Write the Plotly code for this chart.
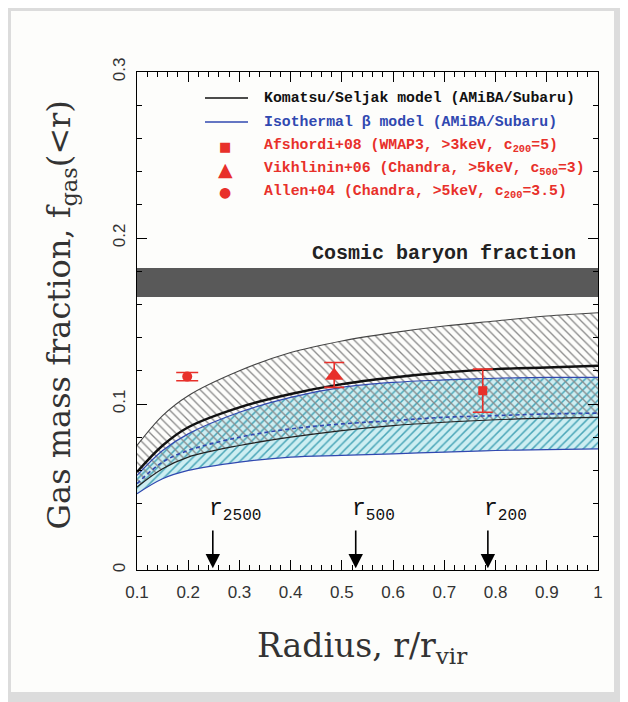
import plotly.graph_objects as go

# ---------------- data ----------------
radius = [0.1, 0.15, 0.2, 0.3, 0.4, 0.5, 0.6, 0.7, 0.8, 0.9, 1.0]
ks_upper = [0.075, 0.093, 0.105, 0.120, 0.131, 0.138, 0.143, 0.147, 0.150, 0.153, 0.155]
ks_center = [0.059, 0.075, 0.086, 0.098, 0.106, 0.112, 0.116, 0.119, 0.121, 0.122, 0.123]
ks_lower = [0.050, 0.061, 0.068, 0.075, 0.080, 0.084, 0.087, 0.089, 0.0905, 0.0915, 0.092]
iso_upper = [0.057, 0.072, 0.082, 0.095, 0.104, 0.110, 0.113, 0.1145, 0.1155, 0.116, 0.116]
iso_center = [0.052, 0.065, 0.072, 0.080, 0.085, 0.088, 0.090, 0.092, 0.093, 0.094, 0.0945]
iso_lower = [0.046, 0.055, 0.060, 0.065, 0.068, 0.069, 0.070, 0.071, 0.072, 0.0725, 0.073]

baryon_low = 0.1645
baryon_high = 0.182
x_range = [0.1, 1.0]

afshordi_x = [0.775]; afshordi_y = [0.108]; afshordi_err = [0.013]
vikhlinin_x = [0.485]; vikhlinin_y = [0.117]; vikhlinin_err_up = [0.008]; vikhlinin_err_dn = [0.007]
allen_x = [0.198]; allen_y = [0.1165]; allen_err = [0.0025]

arrow_x = [0.248, 0.527, 0.785]
arrow_labels = ["r<sub>2500</sub>", "r<sub>500</sub>", "r<sub>200</sub>"]
arrow_top = 0.0247

x_ticks = [0.1, 0.2, 0.3, 0.4, 0.5, 0.6, 0.7, 0.8, 0.9, 1.0]
x_tick_labels = ["0.1", "0.2", "0.3", "0.4", "0.5", "0.6", "0.7", "0.8", "0.9", "1"]
y_ticks = [0, 0.1, 0.2, 0.3]
y_tick_labels = ["0", "0.1", "0.2", "0.3"]

x_title = "Radius, r/r<sub>vir</sub>"
y_title = "Gas mass fraction, f<sub>gas</sub>(<r)"

legend_labels = [
    "Komatsu/Seljak model (AMiBA/Subaru)",
    "Isothermal \u03b2 model (AMiBA/Subaru)",
    "Afshordi+08 (WMAP3, >3keV, c<sub>200</sub>=5)",
    "Vikhlinin+06 (Chandra, >5keV, c<sub>500</sub>=3)",
    "Allen+04 (Chandra, >5keV, c<sub>200</sub>=3.5)",
]

RED = "#e8302a"
BLUE = "#3048b0"
BLACK = "#111111"
MONO = "Liberation Mono"
SERIF = "DejaVu Serif"

fig = go.Figure()

# cosmic baryon fraction band
fig.add_trace(go.Scatter(x=x_range, y=[baryon_low, baryon_low], mode="lines",
                         line=dict(width=0, color="#555"), showlegend=False, hoverinfo="skip"))
fig.add_trace(go.Scatter(x=x_range, y=[baryon_high, baryon_high], mode="lines",
                         line=dict(width=0, color="#555"), fill="tonexty", fillcolor="#595959",
                         showlegend=False, hoverinfo="skip"))

# isothermal band (cyan, "/" hatch)
fig.add_trace(go.Scatter(x=radius, y=iso_lower, mode="lines", line=dict(width=0, shape="spline"),
                         showlegend=False, hoverinfo="skip"))
fig.add_trace(go.Scatter(x=radius, y=iso_upper, mode="lines", line=dict(width=0, shape="spline"),
                         fill="tonexty",
                         fillpattern=dict(shape="/", fgcolor="#4aa6b8", bgcolor="#cdeef2",
                                          size=6, solidity=0.25, fillmode="replace"),
                         showlegend=False, hoverinfo="skip"))

# Komatsu/Seljak band (grey "\" hatch, transparent background)
fig.add_trace(go.Scatter(x=radius, y=ks_lower, mode="lines", line=dict(width=0, shape="spline"),
                         showlegend=False, hoverinfo="skip"))
fig.add_trace(go.Scatter(x=radius, y=ks_upper, mode="lines", line=dict(width=0, shape="spline"),
                         fill="tonexty",
                         fillpattern=dict(shape="\\", fgcolor="#8a8a8a", bgcolor="rgba(0,0,0,0)",
                                          size=6, solidity=0.22, fillmode="replace"),
                         showlegend=False, hoverinfo="skip"))

# boundary and central lines
fig.add_trace(go.Scatter(x=radius, y=iso_lower, mode="lines",
                         line=dict(color=BLUE, width=1.2, shape="spline"), showlegend=False))
fig.add_trace(go.Scatter(x=radius, y=iso_upper, mode="lines",
                         line=dict(color=BLUE, width=1.2, shape="spline"), showlegend=False))
fig.add_trace(go.Scatter(x=radius, y=iso_center, mode="lines",
                         line=dict(color=BLUE, width=1.6, dash="4px,3px", shape="spline"), showlegend=False))
fig.add_trace(go.Scatter(x=radius, y=ks_upper, mode="lines",
                         line=dict(color="#444", width=1.1, shape="spline"), showlegend=False))
fig.add_trace(go.Scatter(x=radius, y=ks_lower, mode="lines",
                         line=dict(color="#222", width=1.2, shape="spline"), showlegend=False))
fig.add_trace(go.Scatter(x=radius, y=ks_center, mode="lines",
                         line=dict(color=BLACK, width=2.4, shape="spline"), showlegend=False))

# data points
fig.add_trace(go.Scatter(x=allen_x, y=allen_y, mode="markers",
                         marker=dict(symbol="circle", size=10, color=RED),
                         error_y=dict(type="data", array=allen_err, color=RED, thickness=1.6, width=11),
                         showlegend=False))
fig.add_trace(go.Scatter(x=vikhlinin_x, y=vikhlinin_y, mode="markers",
                         marker=dict(symbol="triangle-up", size=16, color=RED),
                         error_y=dict(type="data", array=vikhlinin_err_up, arrayminus=vikhlinin_err_dn,
                                      color=RED, thickness=1.6, width=10),
                         showlegend=False))
fig.add_trace(go.Scatter(x=afshordi_x, y=afshordi_y, mode="markers",
                         marker=dict(symbol="square", size=9, color=RED),
                         error_y=dict(type="data", array=afshordi_err, color=RED, thickness=1.6, width=10),
                         showlegend=False))

annotations = []
shapes = []

# axis titles (as annotations for precise placement)
annotations.append(dict(x=0.490, y=-0.1566, xref="paper", yref="paper", text=x_title,
                        showarrow=False, xanchor="center", yanchor="middle",
                        font=dict(family=SERIF, size=33, color="#333")))
annotations.append(dict(x=-0.165, y=0.513, xref="paper", yref="paper", text=y_title,
                        showarrow=False, xanchor="center", yanchor="middle", textangle=-90,
                        font=dict(family=SERIF, size=32, color="#333")))

# cosmic baryon label
annotations.append(dict(x=0.961, y=0.1905, xref="x", yref="y", text="<b>Cosmic baryon fraction</b>",
                        showarrow=False, xanchor="right", yanchor="middle",
                        font=dict(family=MONO, size=20, color="#222")))

# radius arrows
for ax_, lab in zip(arrow_x, arrow_labels):
    annotations.append(dict(x=ax_, y=0.001, xref="x", yref="y", ax=ax_, ay=arrow_top,
                            axref="x", ayref="y", text="", showarrow=True, arrowhead=2,
                            arrowsize=1.8, arrowwidth=1.6, arrowcolor="black", standoff=0))
    annotations.append(dict(x=ax_, y=0.036, xref="x", yref="y", text=lab, showarrow=False,
                            xanchor="left", yanchor="middle", xshift=-6,
                            font=dict(family=MONO, size=23, color="#111")))

# manual legend
rows_y = [0.9478, 0.8996, 0.8514, 0.8052, 0.7590]
colors = [BLACK, BLUE, RED, RED, RED]
for yv, lab, c in zip(rows_y, legend_labels, colors):
    annotations.append(dict(x=0.2711, y=yv, xref="paper", yref="paper", text="<b>" + lab + "</b>",
                            showarrow=False, xanchor="left", yanchor="middle",
                            font=dict(family=MONO, size=14.8, color=c)))
shapes.append(dict(type="line", xref="paper", yref="paper", x0=0.1475, x1=0.2408,
                   y0=rows_y[0], y1=rows_y[0], line=dict(color=BLACK, width=1.6)))
shapes.append(dict(type="line", xref="paper", yref="paper", x0=0.1475, x1=0.2408,
                   y0=rows_y[1], y1=rows_y[1], line=dict(color=BLUE, width=1.6)))
for yv, glyph, sz in zip(rows_y[2:], ["\u25a0", "\u25b2", "\u25cf"], [13, 19, 14]):
    annotations.append(dict(x=0.1909, y=yv, xref="paper", yref="paper", text=glyph,
                            showarrow=False, xanchor="center", yanchor="middle",
                            font=dict(family="DejaVu Sans", size=sz, color=RED)))

# page frame (outer grey, inner white panel)
shapes.insert(0, dict(type="rect", xref="paper", yref="paper", x0=-0.2733, x1=1.0347,
                      y0=-0.2450, y1=1.1225, fillcolor="#fdfdfb", line=dict(width=0), layer="below"))

axis_common = dict(showgrid=False, zeroline=False, showline=True, linecolor="black", linewidth=1.3,
                   mirror="ticks", ticks="inside", ticklen=10, tickwidth=1.2, tickcolor="black",
                   automargin=False)

# page has an 8px body offset; margins compensate so the plot area lands at 137..598 x 72..570
fig.update_layout(
    width=628, height=702,
    margin=dict(l=129, r=38, t=64, b=140),
    paper_bgcolor="#dcdcdc",
    plot_bgcolor="#fdfdfa",
    showlegend=False,
    annotations=annotations,
    shapes=shapes,
    xaxis=dict(range=x_range, tickvals=x_ticks, ticktext=x_tick_labels, ticklabelstandoff=6,
               minor=dict(dtick=0.02, tick0=0.1, ticks="inside", ticklen=5, tickcolor="black", tickwidth=1),
               tickfont=dict(family="Liberation Sans", size=17, color="#333"),
               **axis_common),
    yaxis=dict(range=[0, 0.3], tickvals=y_ticks, ticktext=y_tick_labels, tickangle=-90,
               ticklabelstandoff=4,
               minor=dict(dtick=0.02, tick0=0, ticks="inside", ticklen=5, tickcolor="black", tickwidth=1),
               tickfont=dict(family="Liberation Sans", size=17, color="#333"),
               **axis_common),
)

fig.write_html("out.html")
